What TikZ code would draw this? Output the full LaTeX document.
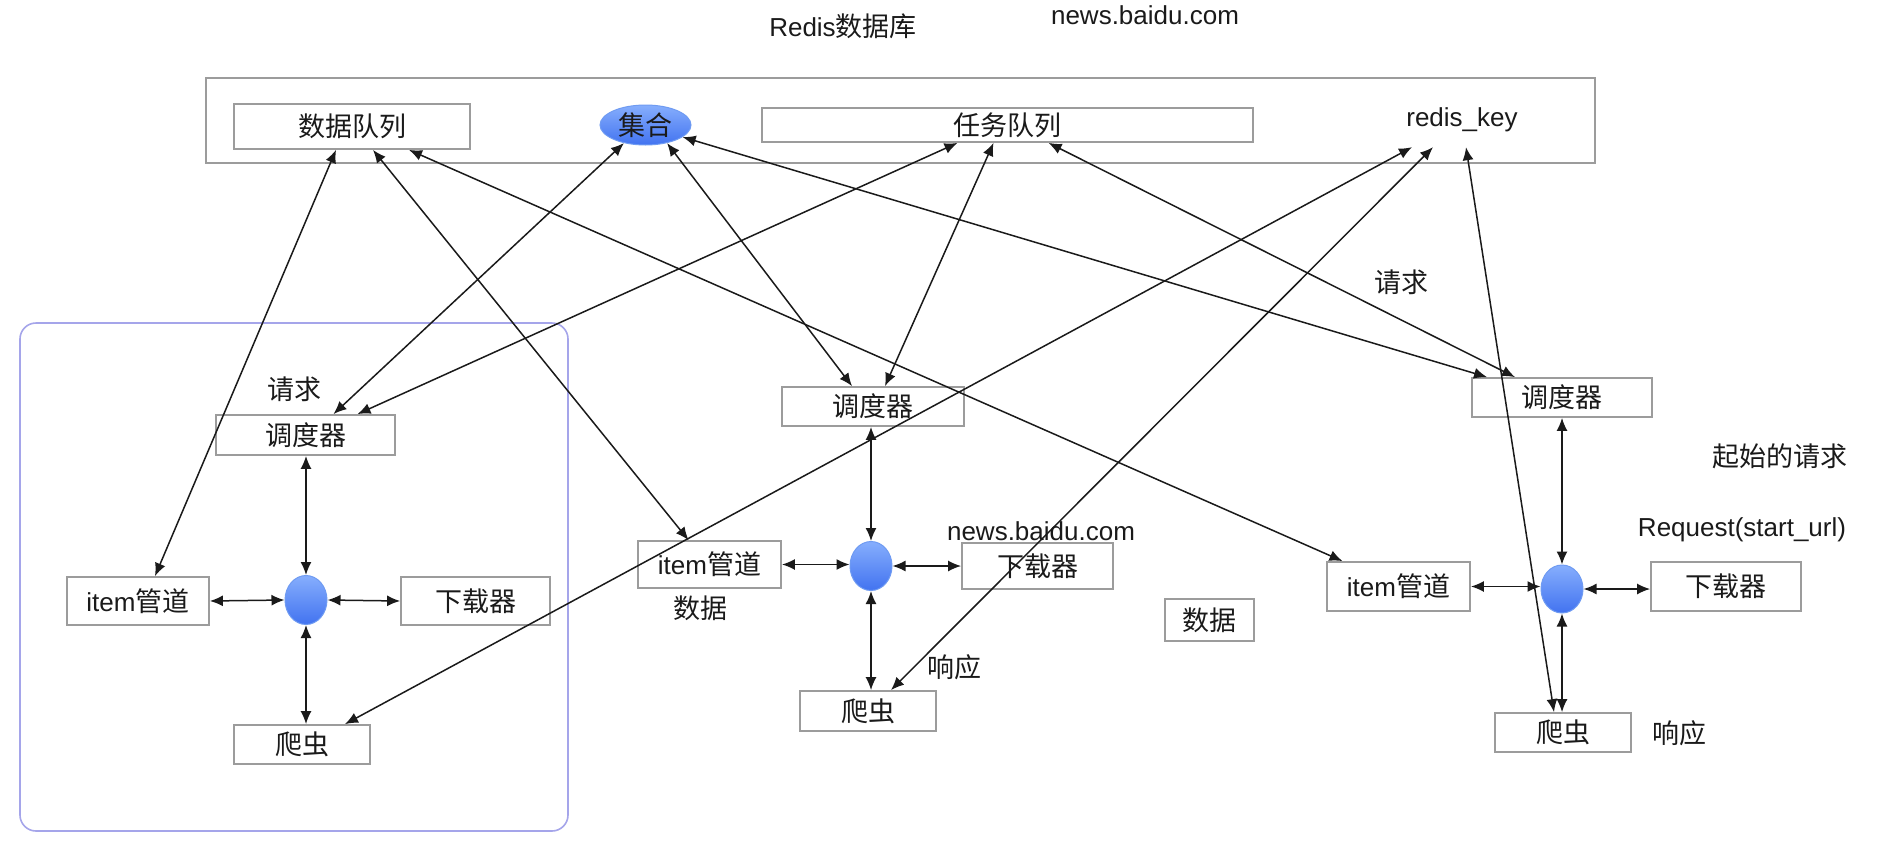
\documentclass[tikz,border=0pt]{standalone}
\usepackage{fontspec}
\setmainfont{Liberation Sans}
\newfontfamily\cjk{Noto Sans CJK SC}
\usetikzlibrary{arrows.meta,shapes.geometric}
\definecolor{boxgray}{HTML}{9C9C9C}
\definecolor{txt}{HTML}{1A1A1A}
\definecolor{linec}{HTML}{1A1A1A}
\definecolor{hubtop}{HTML}{86AEFD}
\definecolor{hubbot}{HTML}{4273F0}
\definecolor{hubline}{HTML}{6F9BF2}
\definecolor{framec}{HTML}{A5A5EA}
\begin{document}
\begin{tikzpicture}[x=1pt,y=-1pt,
  every node/.style={font=\fontsize{26}{30}\selectfont, text=txt},
  box/.style={draw=boxgray, line width=1.8pt, fill=white, inner sep=0pt},
  hub/.style={ellipse, draw=hubline, line width=1pt, top color=hubtop, bottom color=hubbot, minimum width=42pt, minimum height=49pt, inner sep=0pt},
  con/.style={{Latex[length=13pt,width=11pt]}-{Latex[length=13pt,width=11pt]}, line width=1.5pt, draw=linec},
  lbl/.style={inner sep=0pt},
  zh/.style={font=\fontsize{27}{30}\selectfont\cjk}]
\useasboundingbox (0,0) rectangle (1898,846);

% frame of the left crawler
\node[draw=framec, line width=1.6pt, rounded corners=16pt, minimum width=548pt, minimum height=508pt, inner sep=0pt] (frameL) at (294,577) {};

% Redis database
\node[lbl] (title) at (843,26) {Redis{\cjk\fontsize{27}{30}\selectfont 数据库}};
\node[lbl] (news1) at (1145,15) {news.baidu.com};
\node[box, minimum width=1389pt, minimum height=85pt] (redis) at (900.5,120.5) {};
\node[box, zh, minimum width=236pt, minimum height=45pt] (dq) at (352,126.5) {数据队列};
\node[hub, zh, minimum width=91pt, minimum height=40pt] (jihe) at (645.5,125) {集合};
\node[box, zh, minimum width=491pt, minimum height=34pt] (rw) at (1007.5,125) {任务队列};
\node[lbl, minimum height=54pt] (rk) at (1462,120) {redis\_key};

% left crawler
\node[lbl, zh] (qL) at (294,389) {请求};
\node[box, zh, minimum width=179pt, minimum height=40pt] (schL) at (305.5,435) {调度器};
\node[box, minimum width=142pt, minimum height=48pt] (itemL) at (138,601) {item{\cjk\fontsize{27}{30}\selectfont 管道}};
\node[hub] (cL) at (306,600) {};
\node[box, zh, minimum width=149pt, minimum height=48pt] (dlL) at (475.5,601) {下载器};
\node[box, zh, minimum width=136pt, minimum height=39pt] (spL) at (302,744.5) {爬虫};

% middle crawler
\node[box, zh, minimum width=182pt, minimum height=39pt] (schM) at (873,406.5) {调度器};
\node[hub] (cM) at (871,566) {};
\node[box, minimum width=143pt, minimum height=47pt] (itemM) at (709.5,564.5) {item{\cjk\fontsize{27}{30}\selectfont 管道}};
\node[box, zh, minimum width=151pt, minimum height=46pt] (dlM) at (1037.5,566) {下载器};
\node[box, zh, minimum width=136pt, minimum height=40pt] (spM) at (868,711) {爬虫};
\node[lbl, zh] (dataM) at (700,608) {数据};
\node[lbl] (news2) at (1041,531) {news.baidu.com};
\node[lbl, zh] (respM) at (954,667) {响应};

\node[box, zh, minimum width=89pt, minimum height=42pt] (dataBox) at (1209.5,620) {数据};

% right crawler
\node[lbl, zh] (qR) at (1401,282) {请求};
\node[box, zh, minimum width=180pt, minimum height=39pt] (schR) at (1562,397.5) {调度器};
\node[lbl, zh] (start) at (1780,456) {起始的请求};
\node[lbl] (req) at (1742,530) {Request(start\_url)};
\node[box, minimum width=143pt, minimum height=49pt] (itemR) at (1398.5,586.5) {item{\cjk\fontsize{27}{30}\selectfont 管道}};
\node[hub, minimum height=48pt] (cR) at (1562,589) {};
\node[box, zh, minimum width=150pt, minimum height=49pt] (dlR) at (1726,586.5) {下载器};
\node[box, zh, minimum width=136pt, minimum height=39pt] (spR) at (1563,732.5) {爬虫};
\node[lbl, zh] (respR) at (1679,733) {响应};

% cluster connectors
\draw[con] (schL.south -| cL.north) -- (cL.north);
\draw[con] (itemL.east) -- (cL.west);
\draw[con] (cL.east) -- (dlL.west);
\draw[con] (cL.south) -- (cL.south |- spL.north);

\draw[con] (schM.south -| cM.north) -- (cM.north);
\draw[con] (itemM.east) -- (itemM.east -| cM.west);
\draw[con] (cM.east) -- (cM.east -| dlM.west);
\draw[con] (cM.south) -- (cM.south |- spM.north);

\draw[con] (schR.south -| cR.north) -- (cR.north);
\draw[con] (itemR.east) -- (itemR.east -| cR.west);
\draw[con] (cR.east) -- (cR.east -| dlR.west);
\draw[con] (cR.south) -- (cR.south |- spR.north);

% Redis connectors
\draw[con] ([xshift=-16pt]dq.south) -- ([xshift=17pt]itemL.north);
\draw[con] ([xshift=21pt]dq.south) -- ([xshift=-21pt]itemM.north);
\draw[con] ([xshift=57pt]dq.south) -- ([xshift=-56pt]itemR.north);
\draw[con] (jihe.-140) -- ([xshift=28pt]schL.north);
\draw[con] ([xshift=-50pt]rw.south) -- ([xshift=52pt]schL.north);
\draw[con] (jihe.-40) -- ([xshift=-21pt]schM.north);
\draw[con] ([xshift=-14pt]rw.south) -- ([xshift=12pt]schM.north);
\draw[con] (jihe.-18) -- ([xshift=-75pt]schR.north);
\draw[con] ([xshift=41pt]rw.south) -- ([xshift=-47pt]schR.north);
\draw[con] ([xshift=-50pt]rk.south) -- ([xshift=43pt]spL.north);
\draw[con] ([xshift=-29pt]rk.south) -- ([xshift=23pt]spM.north);
\draw[con] ([xshift=4pt]rk.south) -- ([xshift=-9pt]spR.north);
\end{tikzpicture}
\end{document}
